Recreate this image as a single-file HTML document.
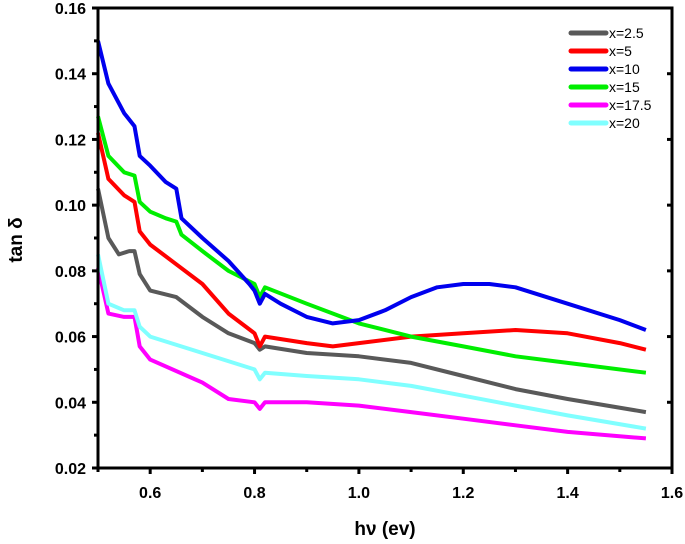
<!DOCTYPE html>
<html><head><meta charset="utf-8"><style>
body{margin:0;background:#fff}
svg{display:block;font-family:"Liberation Sans",sans-serif}
</style></head><body>
<svg id="c" width="685" height="544"></svg>
<script>
const xTicks=[0.6,0.8,1.0,1.2,1.4,1.6];
const yTicks=[0.02,0.04,0.06,0.08,0.10,0.12,0.14,0.16];
const seriesNames=["x=2.5","x=5","x=10","x=15","x=17.5","x=20"];
const seriesColors=["#595959","#ff0000","#0000ee","#00ee00","#ff00ff","#80ffff"];
const xs_gray=[0.50,0.52,0.54,0.56,0.57,0.58,0.60,0.65,0.70,0.75,0.80,0.81,0.82,0.90,1.00,1.10,1.20,1.30,1.40,1.55];
const ys_gray=[0.105,0.090,0.085,0.086,0.086,0.079,0.074,0.072,0.066,0.061,0.058,0.056,0.057,0.055,0.054,0.052,0.048,0.044,0.041,0.037];
const xs_red=[0.50,0.52,0.55,0.57,0.58,0.60,0.65,0.70,0.75,0.80,0.81,0.82,0.90,0.95,1.00,1.10,1.20,1.30,1.40,1.50,1.55];
const ys_red=[0.122,0.108,0.103,0.101,0.092,0.088,0.082,0.076,0.067,0.061,0.057,0.060,0.058,0.057,0.058,0.060,0.061,0.062,0.061,0.058,0.056];
const xs_blue=[0.50,0.52,0.55,0.57,0.58,0.60,0.63,0.65,0.66,0.70,0.75,0.79,0.80,0.81,0.82,0.85,0.90,0.95,1.00,1.05,1.10,1.15,1.20,1.25,1.30,1.40,1.50,1.55];
const ys_blue=[0.150,0.137,0.128,0.124,0.115,0.112,0.107,0.105,0.096,0.090,0.083,0.076,0.074,0.070,0.073,0.070,0.066,0.064,0.065,0.068,0.072,0.075,0.076,0.076,0.075,0.070,0.065,0.062];
const xs_green=[0.50,0.52,0.55,0.57,0.58,0.60,0.63,0.65,0.66,0.70,0.75,0.80,0.81,0.82,0.90,1.00,1.10,1.20,1.30,1.40,1.55];
const ys_green=[0.127,0.115,0.110,0.109,0.101,0.098,0.096,0.095,0.091,0.086,0.080,0.076,0.072,0.075,0.070,0.064,0.060,0.057,0.054,0.052,0.049];
const xs_mag=[0.50,0.52,0.55,0.57,0.58,0.60,0.70,0.75,0.80,0.81,0.82,0.90,1.00,1.10,1.20,1.30,1.40,1.55];
const ys_mag=[0.081,0.067,0.066,0.066,0.057,0.053,0.046,0.041,0.040,0.038,0.040,0.040,0.039,0.037,0.035,0.033,0.031,0.029];
const xs_cyan=[0.50,0.52,0.55,0.57,0.58,0.60,0.70,0.80,0.81,0.82,0.90,1.00,1.10,1.20,1.30,1.40,1.55];
const ys_cyan=[0.085,0.070,0.068,0.068,0.063,0.060,0.055,0.050,0.047,0.049,0.048,0.047,0.045,0.042,0.039,0.036,0.032];

const L=98,R=672,T=8,B=468;
const X=v=>L+(v-0.5)/(1.1)*(R-L);
const Y=v=>B-(v-0.02)/0.14*(B-T);
const svg=document.getElementById('c');
const NS='http://www.w3.org/2000/svg';
function mk(t,a){const e=document.createElementNS(NS,t);for(const k in a)e.setAttribute(k,a[k]);svg.appendChild(e);return e;}

const order=[[xs_mag,ys_mag,4],[xs_cyan,ys_cyan,5],[xs_gray,ys_gray,0],[xs_red,ys_red,1],[xs_green,ys_green,3],[xs_blue,ys_blue,2]];
order.forEach(([xs,ys,i])=>{
  const d=xs.map((x,j)=>(j?'L':'M')+X(x).toFixed(1)+','+Y(ys[j]).toFixed(1)).join('');
  const p=mk('path',{d:d,fill:'none',stroke:seriesColors[i],'stroke-width':4,'stroke-linejoin':'round'});
  
  
});

const frame=mk('rect',{x:L,y:T,width:R-L,height:B-T,fill:'none',stroke:'#000','stroke-width':3});



xTicks.forEach(v=>{
  const t=mk('line',{x1:X(v),x2:X(v),y1:B,y2:B+6,stroke:'#000','stroke-width':3});
  
  
  const m=mk('line',{x1:X(v-0.1),x2:X(v-0.1),y1:B,y2:B+4,stroke:'#000','stroke-width':3});
  
  
  const l=mk('text',{x:X(v),y:B+30,'text-anchor':'middle','font-size':16,'font-weight':'bold'});
  l.textContent=v.toFixed(1);
  
  
});
yTicks.forEach(v=>{
  const t=mk('line',{x1:L-6,x2:L,y1:Y(v),y2:Y(v),stroke:'#000','stroke-width':3});
  
  
  const r=mk('line',{x1:R-5,x2:R,y1:Y(v),y2:Y(v),stroke:'#000','stroke-width':3});
  
  
  if(v<0.16){const m=mk('line',{x1:L-4,x2:L,y1:Y(v+0.01),y2:Y(v+0.01),stroke:'#000','stroke-width':3});
  
  }
  const l=mk('text',{x:L-12,y:Y(v)+6,'text-anchor':'end','font-size':16,'font-weight':'bold'});
  l.textContent=v.toFixed(2);
  
  
});
const xt=mk('text',{x:385,y:535,'text-anchor':'middle','font-size':19,'font-weight':'bold'});
xt.textContent='hν (ev)';


const yt=mk('text',{x:22,y:240,'text-anchor':'middle','font-size':19,'font-weight':'bold',transform:'rotate(-90 22 240)'});
yt.textContent='tan δ';



seriesNames.forEach((n,i)=>{
  const y=33+i*18;
  const ln=mk('line',{x1:571,x2:606,y1:y,y2:y,stroke:seriesColors[i],'stroke-width':5,'stroke-linecap':'round'});
  
  
  const tx=mk('text',{x:609,y:y+5,'font-size':14});
  tx.textContent=n;
  
  
});
</script>
</body></html>
